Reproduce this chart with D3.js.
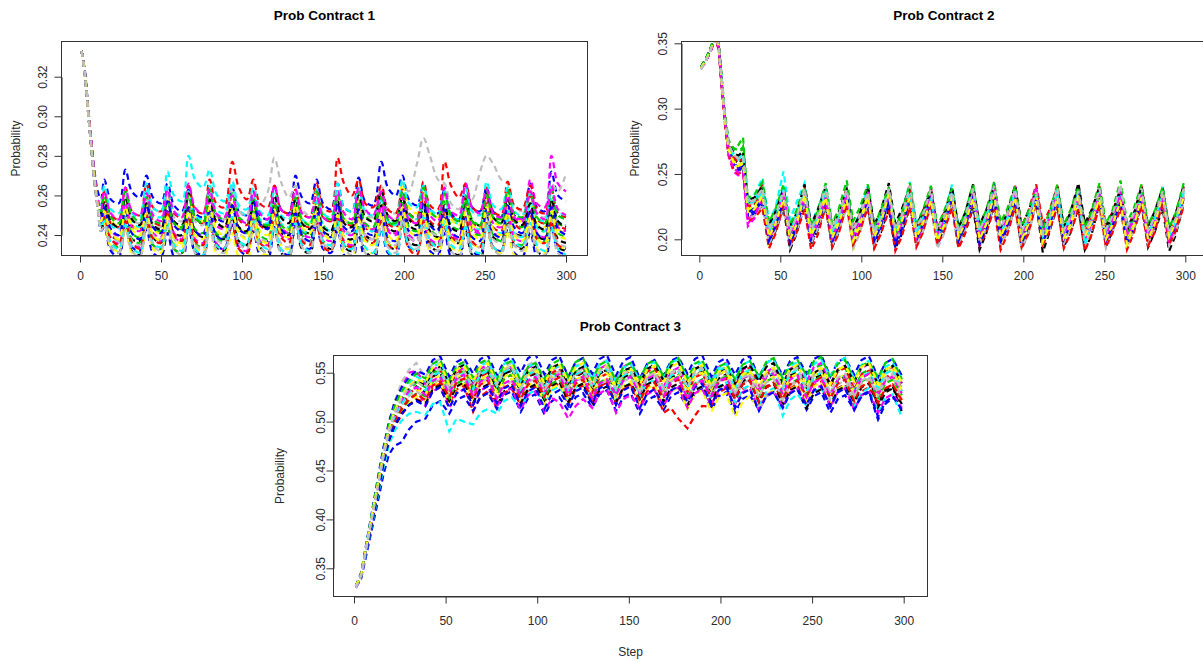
<!DOCTYPE html>
<html>
<head>
<meta charset="utf-8">
<script src="https://cdn.jsdelivr.net/npm/d3@7"></script>
<style>
  html, body { margin: 0; padding: 0; background: #ffffff; }
  svg { display: block; }
  text { font-family: "Liberation Sans", Arial, Helvetica, sans-serif; }
</style>
</head>
<body>
<svg id="chart" width="1203" height="662"></svg>
<script>
// Series colours (R default palette order), recycled over the runs
const lineColors = ["#000000", "#FF0000", "#00CD00", "#0000FF", "#00FFFF", "#FF00FF", "#FFFF00", "#BEBEBE"];

const stepTicks = [0, 50, 100, 150, 200, 250, 300];
const yTicks1 = [0.24, 0.26, 0.28, 0.30, 0.32];
const yTicks2 = [0.20, 0.25, 0.30, 0.35];
const yTicks3 = [0.35, 0.40, 0.45, 0.50, 0.55];

// ---- Contract 1: probability per step for each simulation run ----
const steps1 = [1,3,5,7,9,11,13,15,19,24,28,32,37,41,45,50,54,58,63,67,71,76,80,84,89,94,98,103,107,111,116,120,124,129,133,137,142,146,150,155,159,163,168,172,176,181,186,190,195,199,203,208,212,216,221,225,229,234,238,242,247,251,255,260,264,268,273,278,282,287,291,295,300];
const contract1 = [
[.333,.322,.303,.284,.267,.255,.247,.252,.240,.238,.249,.238,.237,.250,.239,.236,.252,.241,.240,.253,.242,.239,.251,.240,.238,.249,.237,.235,.250,.238,.237,.253,.241,.240,.255,.243,.241,.254,.242,.240,.251,.239,.238,.252,.240,.238,.255,.244,.242,.256,.245,.243,.254,.242,.239,.250,.238,.236,.248,.236,.234,.251,.239,.237,.253,.241,.240,.252,.240,.238,.250,.238,.236],
[.333,.322,.304,.286,.269,.257,.251,.258,.246,.244,.256,.245,.243,.259,.247,.245,.257,.246,.243,.260,.248,.246,.262,.250,.248,.260,.248,.245,.257,.245,.243,.255,.243,.242,.258,.246,.244,.261,.249,.247,.259,.247,.245,.256,.244,.242,.258,.246,.244,.261,.249,.246,.259,.247,.245,.262,.250,.247,.259,.247,.244,.256,.244,.242,.258,.246,.243,.260,.248,.246,.257,.245,.243],
[.333,.321,.302,.285,.268,.256,.249,.255,.243,.240,.253,.241,.239,.256,.244,.242,.258,.246,.243,.255,.243,.241,.253,.241,.239,.256,.244,.241,.259,.247,.245,.257,.245,.243,.254,.242,.240,.257,.245,.242,.260,.248,.246,.262,.250,.247,.259,.247,.245,.256,.244,.242,.255,.243,.240,.257,.245,.243,.260,.248,.245,.262,.250,.248,.259,.247,.244,.256,.244,.242,.258,.246,.244],
[.333,.323,.305,.288,.272,.262,.258,.268,.258,.256,.273,.262,.259,.270,.259,.256,.266,.255,.252,.263,.251,.249,.261,.249,.247,.264,.252,.250,.262,.250,.248,.265,.253,.251,.270,.259,.256,.268,.256,.253,.266,.254,.252,.269,.257,.255,.277,.264,.260,.270,.258,.255,.265,.253,.251,.263,.251,.248,.266,.254,.252,.264,.252,.249,.262,.250,.248,.266,.254,.252,.272,.260,.257],
[.333,.322,.303,.285,.268,.256,.250,.256,.245,.243,.258,.247,.244,.262,.251,.249,.272,.260,.257,.280,.268,.264,.273,.261,.257,.265,.253,.250,.260,.248,.246,.258,.246,.244,.255,.243,.241,.257,.245,.242,.254,.242,.240,.256,.244,.242,.259,.247,.245,.262,.250,.248,.264,.252,.249,.260,.248,.246,.257,.245,.243,.255,.243,.241,.253,.241,.239,.256,.244,.242,.259,.247,.245],
[.333,.322,.303,.285,.268,.255,.246,.250,.238,.236,.248,.236,.234,.251,.239,.237,.253,.241,.238,.250,.238,.236,.248,.236,.233,.246,.234,.232,.249,.237,.235,.252,.240,.238,.250,.238,.236,.247,.235,.233,.249,.237,.235,.252,.240,.238,.254,.242,.240,.251,.239,.237,.249,.237,.235,.252,.240,.238,.255,.243,.241,.258,.246,.244,.262,.250,.248,.268,.256,.254,.280,.266,.262],
[.333,.322,.303,.285,.268,.256,.250,.259,.247,.245,.257,.245,.243,.255,.243,.241,.258,.246,.244,.261,.249,.247,.259,.247,.244,.256,.244,.242,.254,.242,.240,.257,.245,.243,.260,.248,.246,.263,.251,.248,.260,.248,.246,.257,.245,.243,.262,.250,.248,.266,.254,.251,.263,.251,.249,.260,.248,.245,.257,.245,.243,.259,.247,.245,.261,.249,.247,.258,.246,.244,.255,.243,.241],
[.333,.322,.303,.285,.268,.256,.252,.262,.250,.248,.260,.248,.246,.258,.246,.244,.261,.249,.247,.259,.247,.245,.262,.250,.248,.264,.252,.250,.266,.255,.262,.279,.267,.259,.265,.253,.250,.262,.250,.248,.260,.248,.246,.263,.251,.249,.265,.253,.251,.266,.262,.276,.289,.280,.268,.266,.256,.253,.264,.258,.272,.280,.276,.268,.266,.255,.252,.263,.251,.249,.266,.262,.271],
[.333,.321,.302,.284,.267,.254,.243,.246,.234,.231,.244,.232,.230,.247,.235,.233,.245,.233,.231,.243,.231,.228,.246,.234,.232,.248,.236,.234,.246,.234,.231,.243,.231,.229,.245,.233,.231,.248,.236,.233,.246,.234,.232,.244,.232,.229,.247,.235,.233,.249,.237,.235,.247,.235,.232,.244,.232,.230,.242,.230,.227,.245,.233,.231,.247,.235,.233,.244,.232,.230,.246,.234,.232],
[.333,.322,.304,.287,.270,.258,.254,.262,.250,.248,.264,.252,.250,.266,.254,.252,.263,.251,.249,.265,.253,.251,.268,.256,.254,.277,.264,.258,.268,.256,.254,.265,.253,.251,.263,.251,.249,.266,.254,.252,.279,.266,.260,.268,.256,.254,.265,.253,.251,.263,.251,.249,.267,.255,.253,.277,.265,.259,.266,.254,.252,.264,.252,.250,.267,.255,.253,.265,.253,.251,.263,.251,.249],
[.333,.322,.303,.285,.268,.255,.245,.248,.236,.234,.250,.238,.236,.247,.235,.233,.245,.233,.231,.248,.236,.234,.251,.239,.237,.249,.237,.235,.252,.240,.238,.255,.243,.241,.252,.240,.237,.249,.237,.235,.247,.235,.233,.250,.238,.236,.248,.236,.234,.246,.234,.232,.249,.237,.235,.251,.239,.237,.254,.242,.240,.252,.240,.237,.249,.237,.235,.251,.239,.237,.253,.241,.239],
[.333,.321,.302,.284,.266,.253,.242,.244,.232,.229,.246,.234,.232,.243,.231,.229,.241,.229,.226,.244,.232,.230,.247,.235,.233,.245,.233,.230,.242,.230,.228,.244,.232,.230,.247,.235,.233,.245,.233,.231,.242,.230,.227,.240,.228,.226,.243,.231,.229,.246,.234,.232,.244,.232,.230,.241,.229,.227,.244,.232,.230,.246,.234,.232,.243,.231,.229,.241,.229,.227,.244,.232,.230],
[.333,.322,.304,.286,.270,.258,.255,.265,.253,.251,.263,.251,.249,.266,.254,.252,.264,.252,.250,.262,.250,.248,.265,.253,.251,.267,.255,.253,.264,.252,.250,.262,.250,.248,.260,.248,.246,.263,.251,.249,.266,.254,.252,.264,.252,.250,.261,.249,.247,.268,.256,.254,.265,.253,.251,.262,.250,.248,.264,.252,.250,.267,.255,.253,.264,.252,.250,.261,.249,.247,.264,.252,.250],
[.333,.322,.303,.285,.268,.256,.248,.254,.242,.240,.256,.244,.242,.253,.241,.239,.251,.239,.237,.254,.242,.240,.257,.245,.243,.255,.243,.241,.258,.246,.244,.256,.244,.241,.253,.241,.239,.251,.239,.237,.254,.242,.240,.257,.245,.243,.255,.243,.241,.252,.240,.238,.250,.238,.236,.253,.241,.239,.256,.244,.242,.254,.242,.239,.251,.239,.237,.253,.241,.239,.256,.244,.242],
[.333,.321,.302,.284,.267,.254,.244,.246,.234,.232,.243,.231,.229,.245,.233,.231,.248,.236,.234,.246,.234,.232,.243,.231,.229,.241,.229,.227,.244,.232,.230,.247,.235,.233,.249,.237,.235,.246,.234,.232,.243,.231,.229,.245,.233,.231,.248,.236,.234,.245,.233,.231,.243,.231,.228,.246,.234,.232,.248,.236,.234,.245,.233,.231,.242,.230,.228,.245,.233,.231,.247,.235,.233],
[.333,.322,.303,.285,.268,.255,.247,.251,.239,.237,.249,.237,.235,.252,.240,.238,.250,.238,.236,.247,.235,.233,.250,.238,.236,.253,.241,.239,.251,.239,.237,.248,.236,.234,.250,.238,.236,.253,.241,.239,.255,.243,.241,.252,.240,.238,.249,.237,.235,.251,.239,.237,.254,.242,.240,.251,.239,.237,.248,.236,.234,.250,.238,.236,.253,.241,.239,.250,.238,.236,.248,.236,.234],
[.333,.322,.303,.285,.268,.256,.251,.257,.247,.244,.259,.248,.245,.256,.245,.243,.258,.247,.245,.261,.249,.246,.258,.247,.244,.255,.244,.242,.257,.246,.244,.260,.249,.246,.258,.246,.243,.255,.244,.242,.257,.246,.244,.260,.249,.247,.262,.250,.247,.259,.248,.245,.257,.246,.243,.255,.244,.242,.258,.247,.245,.261,.249,.246,.259,.248,.245,.256,.245,.243,.258,.247,.244],
[.333,.321,.302,.284,.267,.254,.245,.249,.238,.235,.247,.236,.233,.250,.238,.236,.252,.240,.237,.249,.237,.235,.247,.235,.233,.245,.233,.231,.248,.236,.234,.251,.239,.236,.249,.237,.235,.246,.234,.232,.248,.236,.234,.250,.238,.236,.247,.235,.233,.245,.233,.230,.248,.236,.234,.251,.239,.237,.249,.237,.234,.246,.234,.232,.248,.236,.234,.250,.238,.236,.247,.235,.233],
[.333,.322,.304,.286,.269,.257,.252,.260,.249,.246,.262,.250,.247,.259,.248,.246,.257,.246,.244,.260,.249,.246,.263,.251,.248,.261,.249,.247,.258,.247,.245,.256,.245,.243,.259,.248,.245,.262,.250,.248,.260,.248,.246,.257,.246,.244,.259,.248,.246,.262,.251,.248,.264,.252,.249,.261,.250,.247,.258,.247,.245,.260,.249,.246,.263,.251,.249,.260,.249,.246,.262,.250,.248],
[.333,.322,.303,.285,.268,.255,.248,.254,.243,.240,.252,.241,.238,.255,.244,.241,.257,.245,.242,.254,.242,.240,.252,.240,.238,.255,.243,.241,.257,.246,.243,.254,.243,.240,.251,.240,.237,.253,.242,.239,.256,.244,.242,.253,.242,.240,.251,.239,.237,.254,.242,.240,.256,.245,.242,.253,.242,.239,.250,.239,.237,.253,.241,.239,.255,.244,.241,.252,.241,.238,.254,.243,.240],
[.333,.321,.302,.284,.267,.254,.244,.247,.236,.233,.245,.234,.231,.248,.236,.234,.246,.235,.232,.244,.233,.230,.247,.235,.233,.249,.237,.235,.247,.236,.233,.244,.233,.231,.246,.235,.232,.249,.237,.235,.247,.235,.233,.245,.234,.231,.243,.232,.229,.246,.235,.232,.249,.237,.234,.247,.235,.233,.244,.233,.231,.246,.234,.232,.248,.237,.234,.246,.235,.232,.244,.233,.230],
[.333,.322,.304,.287,.270,.258,.253,.262,.251,.248,.264,.252,.250,.261,.250,.247,.263,.252,.249,.266,.254,.251,.263,.251,.249,.260,.249,.246,.262,.251,.248,.265,.253,.250,.263,.251,.249,.260,.249,.247,.262,.251,.248,.264,.253,.250,.262,.250,.248,.259,.248,.246,.261,.250,.247,.264,.252,.250,.266,.254,.251,.263,.251,.249,.260,.249,.247,.262,.251,.248,.265,.253,.250],
[.333,.322,.303,.285,.268,.255,.247,.252,.241,.238,.254,.243,.240,.251,.240,.237,.249,.238,.236,.252,.240,.238,.254,.243,.240,.252,.241,.238,.250,.238,.236,.253,.241,.239,.255,.244,.241,.252,.241,.238,.250,.239,.236,.248,.237,.235,.251,.240,.237,.254,.242,.240,.251,.240,.238,.249,.238,.235,.252,.241,.238,.254,.243,.240,.251,.240,.237,.249,.238,.236,.252,.240,.238],
[.333,.321,.302,.284,.266,.253,.242,.245,.234,.231,.243,.232,.229,.246,.235,.232,.244,.233,.230,.242,.231,.228,.245,.233,.231,.247,.236,.233,.245,.234,.231,.243,.231,.229,.245,.234,.231,.247,.236,.233,.244,.233,.230,.242,.231,.228,.245,.234,.231,.248,.236,.233,.246,.234,.232,.243,.232,.229,.241,.230,.227,.244,.233,.230,.246,.235,.232,.244,.232,.230,.242,.231,.228]
];

// ---- Contract 2 ----
const steps2 = [1,4,7,10,12,14,16,18,21,24,27,30,34,39,43,47,52,56,60,65,69,73,78,82,86,91,95,99,104,108,112,117,121,125,130,134,138,143,147,151,156,160,164,169,173,177,182,186,190,195,199,203,208,212,216,221,225,229,234,238,242,247,251,255,260,264,268,273,277,281,286,290,294,299];
const contract2 = [
[.331,.337,.345,.356,.347,.318,.291,.271,.262,.258,.261,.224,.226,.238,.206,.216,.234,.204,.215,.236,.205,.217,.233,.203,.214,.237,.206,.216,.235,.204,.215,.232,.201,.213,.236,.205,.216,.238,.207,.218,.234,.203,.214,.231,.200,.212,.235,.204,.215,.233,.202,.214,.236,.205,.216,.238,.207,.218,.240,.208,.219,.236,.205,.216,.233,.202,.213,.237,.206,.217,.235,.204,.215,.236],
[.332,.338,.346,.357,.349,.320,.293,.273,.265,.262,.265,.228,.229,.242,.210,.220,.238,.208,.219,.240,.209,.221,.237,.207,.218,.239,.208,.219,.236,.206,.217,.238,.208,.219,.241,.210,.221,.239,.208,.220,.237,.206,.218,.240,.209,.220,.238,.207,.219,.241,.210,.221,.242,.212,.222,.240,.209,.220,.238,.207,.218,.241,.210,.221,.239,.208,.219,.237,.206,.217,.240,.209,.220,.238],
[.331,.336,.344,.355,.346,.316,.289,.270,.262,.263,.271,.222,.223,.230,.200,.210,.228,.198,.209,.231,.201,.212,.229,.199,.210,.232,.202,.212,.230,.200,.211,.228,.198,.209,.231,.201,.211,.233,.202,.213,.230,.199,.210,.234,.203,.213,.231,.200,.211,.229,.198,.209,.232,.201,.212,.235,.203,.213,.232,.201,.211,.230,.199,.210,.233,.202,.212,.231,.200,.211,.229,.198,.209,.232],
[.331,.337,.346,.357,.348,.318,.290,.270,.259,.255,.257,.220,.224,.236,.203,.214,.239,.194,.212,.237,.203,.215,.235,.202,.214,.238,.205,.216,.240,.206,.217,.236,.203,.214,.234,.201,.213,.237,.204,.215,.235,.202,.214,.238,.205,.216,.243,.208,.218,.237,.203,.214,.235,.202,.213,.238,.204,.215,.241,.206,.217,.237,.203,.214,.235,.201,.213,.239,.204,.216,.237,.203,.214,.242],
[.332,.338,.347,.356,.348,.319,.292,.272,.264,.261,.263,.230,.234,.247,.214,.224,.252,.215,.228,.243,.212,.223,.240,.210,.221,.238,.208,.220,.236,.207,.218,.239,.209,.220,.244,.211,.221,.238,.206,.217,.235,.204,.215,.233,.202,.213,.236,.204,.215,.234,.202,.214,.232,.200,.212,.235,.202,.213,.233,.195,.210,.236,.203,.214,.234,.201,.212,.232,.199,.211,.235,.202,.213,.233],
[.331,.336,.344,.354,.345,.314,.286,.264,.252,.249,.250,.212,.218,.232,.201,.212,.234,.202,.213,.231,.200,.211,.233,.201,.212,.235,.203,.214,.232,.201,.212,.234,.202,.213,.231,.199,.210,.233,.201,.212,.236,.203,.214,.234,.202,.213,.232,.200,.211,.242,.205,.215,.235,.202,.213,.233,.201,.212,.231,.199,.210,.234,.202,.213,.236,.204,.214,.233,.201,.212,.231,.199,.210,.234],
[.331,.336,.344,.354,.345,.315,.288,.268,.258,.255,.258,.219,.221,.228,.197,.208,.226,.196,.207,.229,.198,.209,.227,.196,.207,.230,.192,.206,.228,.197,.208,.226,.195,.206,.229,.197,.208,.231,.199,.209,.228,.196,.207,.226,.194,.205,.229,.197,.208,.232,.200,.210,.229,.197,.208,.227,.195,.206,.230,.198,.209,.228,.196,.207,.226,.193,.205,.229,.197,.208,.231,.199,.209,.228],
[.330,.336,.345,.356,.347,.317,.290,.271,.263,.260,.262,.226,.228,.235,.205,.215,.233,.203,.214,.236,.206,.216,.238,.207,.217,.235,.204,.215,.233,.202,.213,.236,.205,.216,.234,.203,.214,.232,.201,.212,.235,.204,.215,.237,.206,.217,.234,.203,.214,.236,.205,.216,.233,.202,.213,.235,.204,.215,.237,.206,.217,.234,.203,.214,.232,.201,.212,.235,.204,.215,.237,.206,.216,.235],
[.331,.337,.345,.355,.346,.316,.288,.267,.256,.252,.254,.217,.219,.226,.195,.206,.224,.192,.204,.227,.196,.207,.225,.194,.205,.228,.196,.207,.226,.194,.205,.224,.193,.204,.227,.195,.206,.229,.197,.207,.226,.194,.205,.224,.192,.204,.227,.195,.206,.225,.193,.204,.228,.190,.205,.226,.194,.205,.224,.192,.203,.227,.195,.206,.229,.197,.207,.226,.194,.205,.224,.191,.203,.227],
[.332,.338,.346,.357,.348,.319,.292,.272,.263,.259,.262,.225,.227,.237,.206,.217,.235,.204,.215,.238,.207,.218,.236,.205,.216,.239,.207,.218,.237,.205,.216,.235,.203,.214,.238,.206,.217,.240,.208,.218,.237,.205,.216,.235,.203,.214,.238,.206,.217,.236,.204,.215,.239,.207,.218,.241,.208,.219,.238,.206,.216,.236,.204,.215,.239,.207,.217,.241,.209,.219,.238,.206,.216,.240],
[.331,.337,.345,.356,.347,.318,.292,.273,.268,.272,.278,.228,.230,.234,.203,.213,.232,.201,.212,.235,.204,.214,.233,.202,.213,.231,.200,.211,.234,.203,.213,.236,.205,.215,.233,.202,.213,.231,.200,.211,.234,.203,.214,.236,.205,.215,.233,.202,.212,.231,.199,.211,.234,.202,.213,.236,.204,.214,.233,.201,.212,.235,.203,.214,.237,.205,.215,.234,.202,.213,.232,.200,.211,.235],
[.331,.336,.344,.355,.346,.316,.289,.269,.258,.254,.256,.218,.220,.229,.198,.209,.231,.199,.210,.228,.197,.208,.230,.198,.209,.232,.200,.210,.229,.197,.208,.227,.195,.206,.230,.198,.209,.228,.196,.207,.231,.199,.209,.233,.200,.210,.230,.198,.208,.228,.196,.207,.231,.199,.209,.229,.197,.208,.232,.199,.210,.230,.198,.208,.228,.196,.207,.231,.199,.209,.233,.200,.210,.231],
[.332,.338,.346,.356,.348,.319,.291,.272,.266,.263,.265,.229,.231,.239,.208,.218,.241,.209,.220,.238,.207,.217,.236,.205,.216,.239,.207,.218,.241,.209,.219,.238,.207,.217,.236,.205,.216,.239,.207,.218,.242,.209,.219,.239,.207,.217,.237,.205,.216,.235,.204,.215,.238,.206,.217,.240,.208,.218,.237,.205,.216,.239,.207,.217,.236,.204,.215,.238,.206,.217,.240,.208,.218,.237],
[.331,.336,.344,.355,.345,.315,.287,.267,.257,.253,.255,.215,.220,.231,.200,.211,.229,.198,.210,.232,.201,.212,.234,.202,.213,.231,.199,.210,.229,.197,.209,.232,.200,.211,.230,.198,.210,.233,.201,.212,.231,.199,.210,.229,.197,.209,.232,.200,.211,.234,.202,.212,.231,.199,.210,.229,.197,.208,.232,.200,.211,.230,.198,.209,.233,.201,.212,.231,.199,.210,.229,.197,.208,.232],
[.331,.337,.345,.356,.347,.317,.289,.269,.260,.257,.259,.223,.225,.234,.204,.214,.236,.205,.215,.233,.203,.213,.235,.204,.214,.233,.202,.213,.236,.205,.215,.234,.203,.214,.232,.201,.212,.235,.204,.214,.233,.202,.213,.231,.200,.211,.234,.203,.213,.236,.205,.215,.233,.202,.213,.231,.200,.211,.234,.203,.213,.232,.201,.212,.230,.199,.210,.233,.202,.212,.235,.204,.214,.233],
[.330,.336,.344,.354,.345,.315,.287,.266,.255,.251,.253,.216,.218,.227,.196,.207,.225,.194,.205,.228,.197,.208,.226,.195,.206,.224,.193,.204,.227,.196,.207,.229,.198,.208,.226,.195,.206,.224,.193,.204,.227,.196,.207,.229,.198,.208,.226,.195,.206,.224,.193,.204,.227,.196,.206,.229,.197,.207,.226,.195,.205,.224,.193,.204,.227,.196,.206,.229,.197,.207,.226,.195,.205,.228],
[.332,.338,.346,.357,.349,.321,.294,.274,.266,.264,.267,.230,.232,.241,.211,.221,.239,.209,.220,.242,.211,.222,.240,.210,.221,.238,.208,.219,.241,.211,.222,.243,.212,.223,.240,.210,.221,.237,.207,.218,.240,.209,.220,.242,.211,.222,.239,.209,.220,.241,.210,.221,.238,.208,.219,.240,.210,.220,.243,.212,.222,.240,.209,.220,.238,.207,.218,.241,.210,.221,.239,.208,.219,.241],
[.331,.336,.344,.354,.345,.314,.286,.265,.254,.250,.252,.214,.216,.224,.193,.204,.226,.195,.205,.223,.192,.203,.225,.194,.204,.227,.196,.206,.224,.193,.204,.222,.191,.202,.225,.194,.205,.227,.196,.206,.224,.193,.204,.226,.195,.205,.223,.192,.203,.225,.194,.204,.228,.196,.206,.225,.193,.204,.223,.191,.203,.226,.194,.205,.224,.192,.204,.226,.195,.205,.228,.196,.206,.225],
[.332,.338,.347,.357,.349,.321,.295,.276,.270,.268,.270,.232,.234,.244,.213,.223,.242,.211,.222,.240,.210,.221,.243,.212,.223,.245,.214,.224,.242,.211,.222,.240,.209,.220,.243,.212,.222,.241,.210,.221,.239,.209,.220,.242,.211,.222,.244,.213,.223,.241,.210,.221,.239,.208,.220,.242,.211,.222,.240,.209,.221,.243,.212,.222,.245,.213,.223,.242,.211,.221,.240,.209,.220,.243],
[.331,.336,.345,.355,.346,.316,.289,.268,.257,.253,.255,.218,.222,.231,.199,.210,.229,.197,.209,.232,.200,.211,.230,.198,.210,.233,.201,.212,.231,.199,.210,.229,.197,.208,.232,.200,.211,.234,.202,.212,.231,.199,.210,.228,.196,.208,.231,.199,.210,.233,.201,.212,.230,.198,.209,.232,.200,.211,.235,.202,.212,.232,.199,.210,.229,.197,.208,.232,.200,.211,.234,.202,.212,.231],
[.331,.337,.345,.356,.347,.318,.291,.272,.265,.262,.264,.227,.229,.236,.205,.216,.238,.207,.217,.235,.204,.215,.237,.206,.216,.234,.203,.214,.236,.205,.216,.238,.206,.217,.235,.204,.215,.233,.202,.213,.236,.205,.216,.238,.207,.217,.235,.204,.215,.237,.205,.216,.234,.203,.214,.236,.205,.215,.233,.196,.212,.236,.204,.215,.238,.206,.216,.235,.204,.215,.233,.202,.213,.236],
[.331,.336,.344,.355,.346,.316,.288,.266,.255,.251,.252,.210,.216,.233,.202,.213,.236,.204,.214,.234,.203,.213,.232,.201,.212,.235,.203,.214,.237,.205,.215,.234,.203,.213,.232,.201,.212,.235,.204,.214,.233,.202,.213,.236,.204,.215,.238,.206,.216,.235,.203,.214,.240,.206,.215,.236,.204,.214,.233,.202,.213,.235,.203,.214,.237,.205,.215,.234,.202,.213,.232,.200,.212,.235],
[.331,.337,.345,.356,.347,.317,.289,.269,.259,.256,.258,.221,.223,.233,.202,.212,.231,.200,.211,.234,.203,.213,.232,.201,.212,.230,.199,.210,.233,.202,.212,.235,.204,.214,.232,.201,.212,.230,.199,.210,.233,.202,.212,.231,.200,.211,.234,.202,.213,.232,.200,.211,.229,.198,.210,.232,.201,.211,.234,.202,.213,.231,.200,.211,.229,.196,.209,.232,.200,.211,.234,.202,.213,.232],
[.330,.336,.345,.356,.348,.319,.292,.273,.265,.262,.264,.228,.230,.239,.208,.218,.237,.206,.217,.239,.208,.218,.241,.209,.219,.238,.207,.218,.236,.205,.216,.239,.208,.218,.241,.209,.219,.238,.207,.217,.236,.205,.216,.239,.207,.218,.241,.209,.219,.238,.206,.217,.236,.205,.216,.239,.207,.217,.237,.206,.216,.239,.208,.218,.242,.210,.219,.239,.207,.217,.237,.205,.216,.239]
];

// ---- Contract 3 ----
const steps3 = [1,4,7,10,13,16,19,22,26,30,34,39,43,47,52,56,60,65,69,73,78,82,86,91,95,99,104,108,112,117,121,125,130,134,138,143,147,151,156,160,164,169,173,177,182,186,190,195,199,203,208,212,216,221,225,229,234,238,242,247,251,255,260,264,268,273,277,281,286,290,294,299];
const contract3 = [
[.331,.343,.372,.401,.430,.460,.485,.501,.515,.528,.536,.530,.546,.550,.528,.544,.548,.531,.547,.551,.533,.549,.552,.530,.546,.549,.528,.543,.547,.531,.546,.550,.533,.549,.553,.530,.545,.549,.527,.542,.546,.530,.545,.549,.532,.548,.551,.529,.544,.548,.526,.541,.545,.529,.545,.549,.532,.547,.551,.529,.544,.548,.527,.542,.546,.530,.545,.549,.514,.530,.534,.518],
[.331,.342,.370,.398,.426,.455,.479,.494,.507,.517,.523,.520,.535,.539,.518,.533,.537,.510,.526,.531,.514,.529,.534,.517,.532,.536,.520,.535,.539,.518,.533,.537,.521,.536,.540,.519,.534,.538,.516,.531,.535,.509,.514,.503,.493,.506,.516,.515,.530,.534,.518,.533,.537,.521,.536,.540,.519,.534,.538,.522,.537,.541,.519,.534,.538,.516,.531,.535,.519,.534,.538,.521],
[.332,.344,.374,.403,.433,.463,.488,.505,.520,.532,.540,.535,.550,.554,.533,.548,.552,.536,.551,.555,.538,.553,.556,.535,.550,.554,.533,.548,.551,.536,.551,.555,.539,.554,.557,.536,.551,.554,.533,.548,.552,.535,.550,.554,.538,.553,.557,.535,.550,.553,.532,.547,.551,.535,.550,.554,.538,.553,.556,.540,.555,.558,.537,.552,.555,.534,.549,.553,.537,.552,.556,.539],
[.330,.340,.366,.392,.418,.445,.466,.475,.479,.492,.500,.503,.517,.521,.508,.522,.526,.511,.525,.529,.513,.527,.531,.510,.524,.528,.507,.521,.525,.511,.525,.529,.514,.528,.532,.511,.525,.529,.508,.522,.526,.512,.526,.530,.515,.529,.533,.512,.526,.530,.509,.523,.527,.512,.526,.530,.515,.529,.533,.512,.526,.530,.509,.523,.527,.512,.526,.530,.502,.518,.524,.521],
[.331,.342,.369,.396,.424,.452,.476,.490,.501,.508,.510,.507,.518,.520,.490,.503,.500,.497,.509,.513,.508,.521,.525,.514,.528,.532,.518,.532,.536,.521,.535,.539,.524,.538,.542,.521,.535,.539,.525,.539,.543,.528,.542,.546,.525,.539,.543,.522,.536,.540,.519,.533,.537,.516,.530,.534,.506,.522,.528,.516,.530,.534,.519,.533,.537,.516,.530,.534,.510,.524,.528,.504],
[.332,.345,.376,.406,.437,.468,.494,.515,.535,.550,.552,.538,.553,.557,.536,.551,.555,.539,.554,.558,.537,.552,.556,.540,.555,.559,.538,.553,.557,.536,.551,.555,.539,.554,.558,.541,.556,.560,.538,.553,.557,.536,.551,.555,.539,.554,.558,.541,.556,.560,.538,.553,.557,.536,.551,.555,.539,.554,.558,.541,.556,.560,.538,.553,.557,.540,.555,.559,.537,.552,.556,.539],
[.331,.342,.371,.400,.429,.458,.482,.497,.510,.520,.526,.522,.537,.541,.520,.535,.539,.523,.538,.542,.525,.540,.544,.522,.537,.541,.519,.534,.538,.522,.537,.541,.525,.540,.544,.522,.537,.541,.519,.534,.538,.516,.531,.535,.513,.528,.532,.510,.525,.529,.505,.520,.526,.513,.528,.532,.518,.533,.537,.521,.536,.540,.518,.533,.537,.521,.536,.540,.524,.539,.543,.522],
[.332,.346,.378,.409,.440,.471,.498,.520,.540,.553,.560,.545,.560,.564,.542,.557,.561,.544,.559,.563,.541,.556,.560,.543,.558,.562,.540,.555,.559,.542,.557,.561,.544,.559,.563,.541,.556,.560,.538,.553,.557,.535,.550,.554,.532,.547,.551,.528,.543,.547,.524,.539,.543,.512,.526,.530,.522,.537,.541,.526,.541,.545,.515,.530,.534,.524,.539,.543,.528,.543,.547,.531],
[.331,.342,.370,.398,.427,.456,.480,.495,.508,.517,.522,.518,.533,.537,.521,.536,.540,.519,.534,.538,.516,.531,.535,.519,.534,.538,.522,.537,.541,.520,.535,.539,.517,.532,.536,.520,.535,.539,.523,.538,.542,.520,.535,.539,.517,.532,.536,.520,.535,.539,.523,.538,.542,.520,.535,.539,.517,.532,.536,.514,.529,.533,.517,.532,.536,.520,.535,.539,.517,.532,.536,.510],
[.332,.344,.373,.402,.432,.462,.487,.503,.517,.528,.535,.532,.547,.551,.534,.549,.553,.531,.546,.550,.529,.544,.548,.532,.547,.551,.535,.550,.554,.532,.547,.551,.530,.545,.549,.533,.548,.552,.536,.551,.555,.533,.548,.552,.530,.545,.549,.533,.548,.552,.536,.551,.555,.533,.548,.552,.530,.545,.549,.533,.548,.552,.536,.551,.555,.533,.548,.552,.530,.545,.549,.534],
[.331,.343,.371,.400,.429,.459,.484,.499,.512,.522,.529,.526,.541,.545,.524,.539,.543,.527,.542,.546,.529,.544,.548,.526,.541,.545,.524,.539,.543,.527,.542,.546,.525,.540,.544,.528,.543,.547,.530,.545,.549,.527,.542,.546,.524,.539,.543,.527,.542,.546,.529,.544,.548,.526,.541,.545,.524,.539,.543,.527,.542,.546,.529,.544,.548,.526,.541,.545,.524,.539,.543,.527],
[.332,.346,.378,.410,.442,.473,.499,.519,.535,.545,.552,.548,.563,.567,.546,.561,.565,.549,.564,.568,.547,.562,.566,.550,.565,.569,.548,.563,.567,.546,.561,.565,.549,.564,.568,.547,.562,.566,.544,.559,.563,.547,.562,.566,.549,.564,.568,.546,.561,.565,.548,.563,.567,.545,.560,.564,.547,.562,.566,.549,.564,.568,.546,.561,.565,.548,.563,.567,.545,.560,.564,.547],
[.332,.345,.376,.407,.438,.468,.494,.512,.527,.539,.546,.541,.556,.560,.539,.554,.558,.542,.557,.561,.544,.559,.563,.541,.556,.560,.538,.553,.557,.541,.556,.560,.543,.558,.562,.540,.555,.559,.542,.557,.561,.545,.560,.564,.542,.557,.561,.540,.555,.559,.543,.558,.562,.545,.560,.564,.542,.557,.561,.544,.559,.563,.546,.561,.565,.543,.558,.562,.541,.556,.560,.543],
[.331,.343,.372,.401,.431,.461,.487,.505,.521,.530,.534,.516,.531,.535,.514,.529,.533,.517,.532,.536,.515,.530,.534,.512,.527,.531,.510,.524,.520,.503,.516,.523,.514,.529,.533,.509,.523,.527,.513,.528,.532,.516,.531,.535,.514,.529,.533,.517,.532,.536,.515,.530,.534,.512,.527,.531,.515,.530,.534,.518,.533,.537,.515,.530,.534,.512,.527,.531,.509,.524,.528,.514],
[.331,.343,.373,.403,.433,.463,.489,.506,.520,.528,.533,.528,.543,.547,.530,.545,.549,.528,.543,.547,.531,.546,.550,.533,.548,.552,.530,.545,.549,.528,.543,.547,.531,.546,.550,.534,.549,.553,.531,.546,.550,.528,.543,.547,.531,.546,.550,.533,.548,.552,.530,.545,.549,.527,.542,.546,.530,.545,.549,.532,.547,.551,.529,.544,.548,.531,.546,.550,.534,.549,.553,.531],
[.330,.342,.372,.402,.432,.462,.487,.503,.517,.526,.531,.524,.539,.543,.527,.542,.546,.525,.540,.544,.522,.537,.541,.525,.540,.544,.528,.543,.547,.526,.541,.545,.523,.538,.542,.526,.541,.545,.529,.544,.548,.526,.541,.545,.523,.538,.542,.526,.541,.545,.528,.543,.547,.525,.540,.544,.523,.538,.542,.526,.541,.545,.523,.538,.542,.525,.540,.544,.527,.542,.546,.524],
[.332,.344,.375,.405,.435,.465,.491,.509,.524,.535,.542,.537,.552,.556,.539,.554,.558,.536,.551,.555,.534,.549,.553,.537,.552,.556,.540,.555,.559,.537,.552,.556,.534,.549,.553,.537,.552,.555,.539,.554,.558,.542,.557,.561,.539,.554,.557,.536,.551,.555,.539,.554,.558,.541,.556,.560,.538,.553,.557,.535,.550,.554,.538,.553,.557,.541,.556,.559,.538,.553,.557,.540],
[.331,.343,.372,.401,.430,.459,.484,.500,.513,.523,.528,.522,.537,.541,.525,.540,.544,.523,.538,.542,.520,.535,.539,.523,.538,.542,.526,.541,.545,.524,.539,.543,.521,.536,.540,.518,.533,.537,.521,.536,.540,.524,.539,.543,.522,.537,.541,.525,.540,.544,.523,.538,.542,.520,.535,.539,.523,.538,.542,.526,.541,.545,.524,.539,.543,.521,.536,.540,.519,.534,.538,.522],
[.332,.345,.377,.408,.439,.470,.496,.515,.531,.542,.549,.544,.559,.563,.542,.557,.561,.545,.560,.564,.543,.558,.562,.541,.556,.560,.544,.559,.563,.546,.561,.565,.543,.558,.562,.541,.556,.560,.544,.559,.563,.546,.561,.565,.544,.559,.563,.541,.556,.560,.543,.558,.562,.546,.561,.565,.544,.559,.563,.547,.562,.566,.544,.559,.563,.542,.557,.561,.545,.560,.564,.543],
[.331,.342,.370,.399,.428,.457,.481,.496,.508,.517,.521,.516,.531,.535,.514,.529,.533,.517,.532,.536,.519,.534,.538,.516,.531,.535,.513,.528,.532,.516,.531,.535,.519,.534,.538,.517,.532,.536,.514,.529,.533,.517,.532,.536,.520,.535,.539,.517,.532,.536,.514,.529,.533,.511,.526,.530,.514,.529,.533,.517,.532,.536,.515,.530,.534,.512,.527,.531,.505,.520,.526,.512],
[.331,.343,.373,.403,.433,.463,.488,.505,.519,.529,.535,.532,.547,.551,.530,.545,.549,.533,.548,.552,.536,.551,.555,.533,.548,.552,.530,.545,.549,.533,.548,.552,.535,.550,.554,.532,.547,.551,.529,.544,.548,.532,.547,.551,.535,.550,.554,.537,.552,.556,.534,.549,.553,.531,.546,.550,.534,.549,.553,.531,.546,.550,.528,.543,.547,.531,.546,.550,.534,.549,.553,.531],
[.331,.344,.374,.404,.434,.464,.490,.508,.522,.531,.535,.527,.542,.546,.529,.544,.548,.526,.541,.545,.524,.539,.543,.527,.542,.546,.530,.545,.549,.527,.542,.546,.524,.539,.543,.527,.542,.546,.529,.544,.548,.526,.541,.545,.523,.538,.542,.526,.541,.545,.529,.544,.548,.531,.546,.550,.528,.543,.547,.525,.540,.544,.528,.543,.547,.530,.545,.549,.527,.542,.546,.529],
[.332,.344,.375,.406,.436,.466,.492,.510,.526,.537,.543,.540,.555,.559,.538,.553,.557,.541,.556,.560,.539,.554,.558,.536,.551,.555,.539,.554,.558,.541,.556,.560,.538,.553,.557,.535,.550,.554,.538,.553,.557,.541,.556,.560,.539,.554,.558,.536,.551,.555,.533,.548,.552,.536,.551,.555,.539,.554,.558,.536,.551,.555,.538,.553,.557,.541,.556,.560,.538,.553,.557,.540],
[.330,.343,.374,.404,.434,.464,.490,.508,.524,.535,.541,.535,.550,.554,.533,.548,.552,.536,.551,.555,.538,.553,.557,.535,.550,.554,.532,.547,.551,.535,.550,.554,.537,.552,.556,.534,.549,.553,.531,.546,.550,.534,.549,.553,.536,.551,.555,.533,.548,.552,.530,.545,.549,.533,.548,.552,.536,.551,.555,.533,.548,.552,.530,.545,.549,.527,.542,.546,.530,.545,.549,.532]
];

// ---- Layout of the three panels ----
const panels = [
  { title: "Prob Contract 1", steps: steps1, series: contract1, yTicks: yTicks1,
    box: [61.5, 41.5, 587.5, 255.5], xRange: [80, 566], yDomain: [0.24, 0.32], yRange: [235, 76.7],
    yLabelX: 46.5, yTitleX: 19.5, titleY: 19.5, xLabelY: 280, curve: d3.curveCatmullRom.alpha(0.5) },
  { title: "Prob Contract 2", steps: steps2, series: contract2, yTicks: yTicks2,
    box: [681.5, 41.5, 1206.5, 255.5], xRange: [699.3, 1185.3], yDomain: [0.20, 0.35], yRange: [239.3, 43.3],
    yLabelX: 666.5, yTitleX: 639, titleY: 19.5, xLabelY: 280, curve: d3.curveLinear },
  { title: "Prob Contract 3", steps: steps3, series: contract3, yTicks: yTicks3,
    box: [333.5, 355.5, 927.5, 596.5], xRange: [354, 903.7], yDomain: [0.35, 0.55], yRange: [568.3, 372.7],
    yLabelX: 325, yTitleX: 284, titleY: 330.5, xLabelY: 625, curve: d3.curveLinear }
];

const svg = d3.select("#chart");
const axisColor = "#333333";
const labelColor = "#2b2b2b";

panels.forEach((p, idx) => {
  const x = d3.scaleLinear().domain([0, 300]).range(p.xRange);
  const y = d3.scaleLinear().domain(p.yDomain).range(p.yRange);
  const [bx0, by0, bx1, by1] = p.box;
  const g = svg.append("g");

  g.append("defs").append("clipPath").attr("id", "plot-clip-" + idx)
    .append("rect").attr("x", bx0).attr("y", by0).attr("width", bx1 - bx0).attr("height", by1 - by0);

  const line = d3.line()
    .x((d, j) => x(p.steps[j]))
    .y(d => y(d))
    .curve(p.curve);

  g.append("g").attr("clip-path", `url(#plot-clip-${idx})`)
    .selectAll("path").data(p.series).join("path")
    .attr("d", line)
    .attr("fill", "none")
    .attr("stroke", (d, k) => lineColors[k % lineColors.length])
    .attr("stroke-width", 2.2)
    .attr("stroke-dasharray", "6,4");

  // x axis (step)
  const gx = g.append("g").attr("transform", `translate(0,${by1})`)
    .call(d3.axisBottom(x).tickValues(stepTicks).tickSize(7).tickSizeOuter(0).tickFormat(d3.format("d")));
  gx.select(".domain").attr("stroke", axisColor);
  gx.selectAll(".tick line").attr("stroke", axisColor);
  gx.selectAll(".tick text")
    .attr("y", p.xLabelY - by1).attr("dy", 0)
    .attr("fill", labelColor).attr("font-size", 12)
    .style("font-family", '"Liberation Sans", Arial, sans-serif');

  // y axis (probability) with labels turned parallel to the axis
  const gy = g.append("g").attr("transform", `translate(${bx0},0)`)
    .call(d3.axisLeft(y).tickValues(p.yTicks).tickSize(7).tickSizeOuter(0).tickFormat(d3.format(".2f")));
  gy.select(".domain").attr("stroke", axisColor);
  gy.selectAll(".tick line").attr("stroke", axisColor);
  gy.selectAll(".tick text")
    .attr("x", 0).attr("y", 0).attr("dy", 0)
    .attr("text-anchor", "middle")
    .attr("transform", `translate(${p.yLabelX - bx0},0) rotate(-90)`)
    .attr("fill", labelColor).attr("font-size", 12)
    .style("font-family", '"Liberation Sans", Arial, sans-serif');

  // frame around the plotting region
  g.append("rect")
    .attr("x", bx0).attr("y", by0).attr("width", bx1 - bx0).attr("height", by1 - by0)
    .attr("fill", "none").attr("stroke", axisColor).attr("stroke-width", 1);

  // titles
  g.append("text")
    .attr("x", (bx0 + bx1) / 2).attr("y", p.titleY)
    .attr("text-anchor", "middle").attr("font-size", 13.5).attr("font-weight", "bold")
    .attr("fill", "#000").text(p.title);

  g.append("text")
    .attr("transform", `translate(${p.yTitleX},${(by0 + by1) / 2}) rotate(-90)`)
    .attr("text-anchor", "middle").attr("font-size", 12)
    .attr("fill", labelColor).text("Probability");
});

svg.append("text")
  .attr("x", 630.5).attr("y", 655.5)
  .attr("text-anchor", "middle").attr("font-size", 12)
  .attr("fill", labelColor).text("Step");
</script>
</body>
</html>
